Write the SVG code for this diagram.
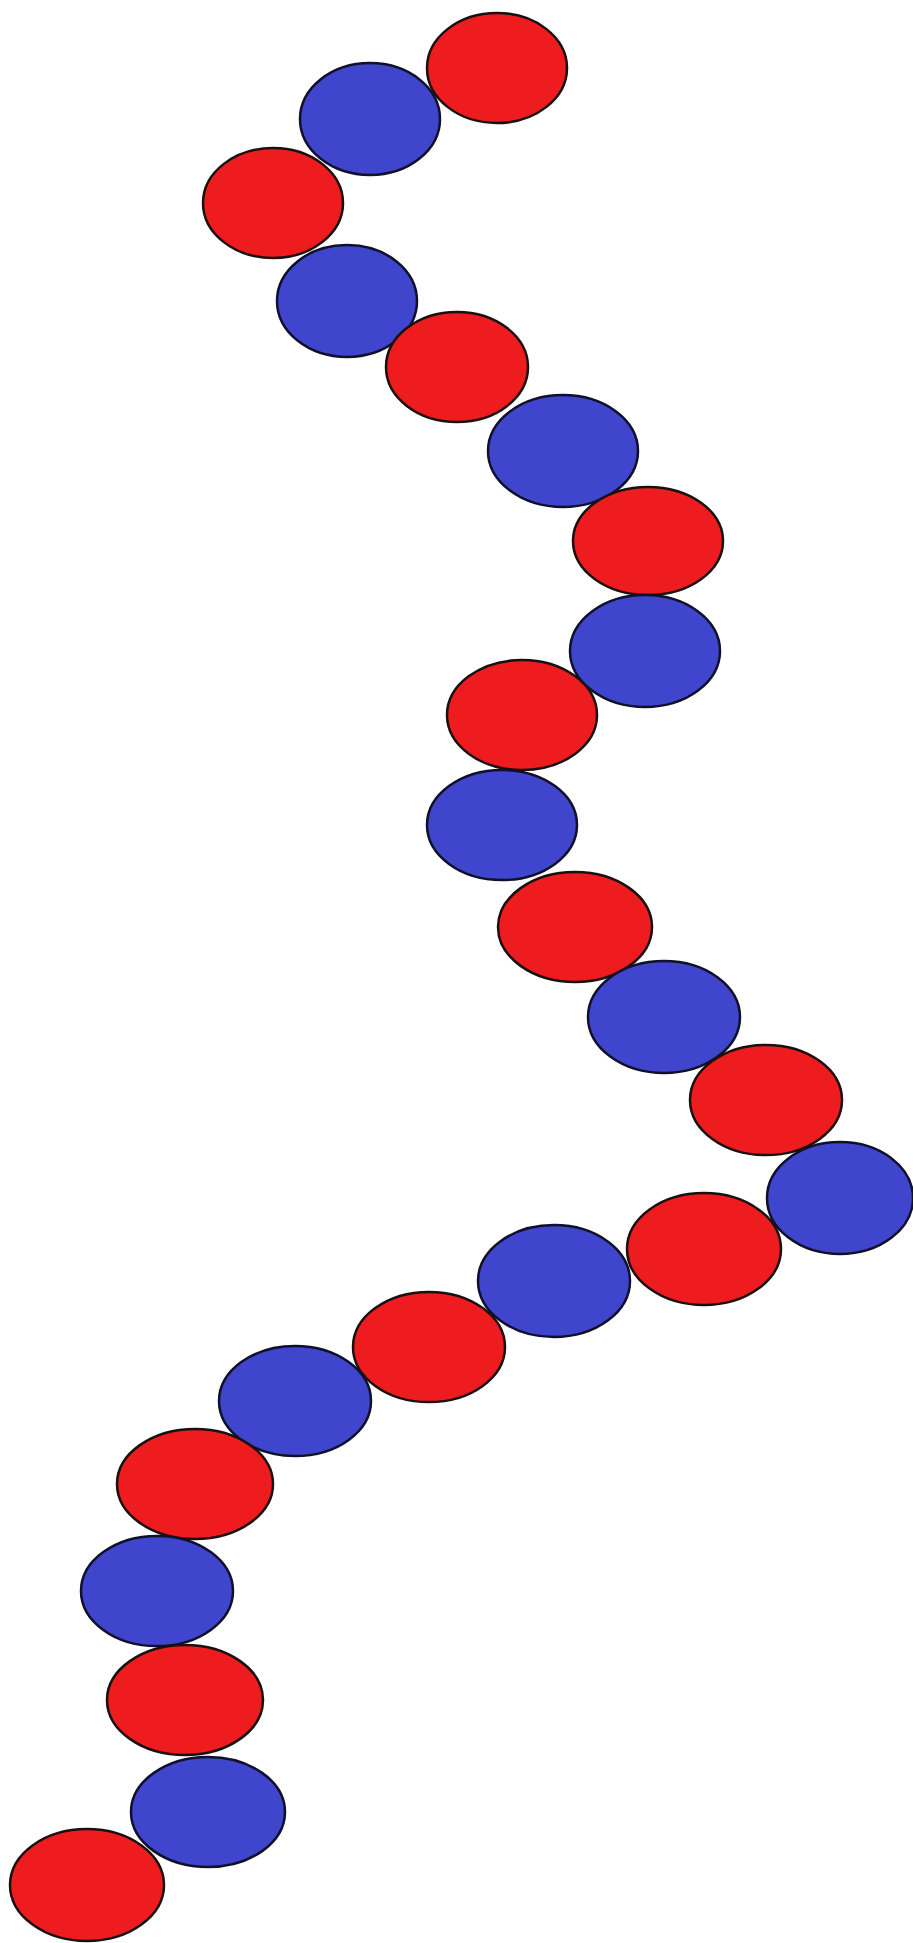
<svg xmlns="http://www.w3.org/2000/svg" width="913" height="1943" viewBox="0 0 913 1943">
<style>
.r{fill:#ee1c1f;stroke:#1a1010;stroke-width:2.5}
.b{fill:#3f45cc;stroke:#10102a;stroke-width:2.5}
</style>
<rect width="913" height="1943" fill="#ffffff"/>
<g id="n1"><ellipse class="r" cx="497" cy="68" rx="70" ry="55"/></g>
<g id="n2"><ellipse class="b" cx="370" cy="119" rx="70" ry="56"/></g>
<g id="n3"><ellipse class="r" cx="273" cy="203" rx="70" ry="55"/></g>
<g id="n4"><ellipse class="b" cx="347" cy="301" rx="70" ry="56"/></g>
<g id="n5"><ellipse class="r" cx="457" cy="367" rx="71" ry="55"/></g>
<g id="n6"><ellipse class="b" cx="563" cy="451" rx="75" ry="56"/></g>
<g id="n7"><ellipse class="r" cx="648" cy="541" rx="75" ry="54"/></g>
<g id="n8"><ellipse class="b" cx="645" cy="651" rx="75" ry="56"/></g>
<g id="n9"><ellipse class="r" cx="522" cy="715" rx="75" ry="55"/></g>
<g id="n10"><ellipse class="b" cx="502" cy="825" rx="75" ry="55"/></g>
<g id="n11"><ellipse class="r" cx="575" cy="927" rx="77" ry="55"/></g>
<g id="n12"><ellipse class="b" cx="664" cy="1017" rx="76" ry="56"/></g>
<g id="n13"><ellipse class="r" cx="766" cy="1100" rx="76" ry="55"/></g>
<g id="n14"><ellipse class="b" cx="840" cy="1198" rx="73" ry="56"/></g>
<g id="n15"><ellipse class="r" cx="704" cy="1249" rx="77" ry="56"/></g>
<g id="n16"><ellipse class="b" cx="554" cy="1281" rx="76" ry="56"/></g>
<g id="n17"><ellipse class="r" cx="429" cy="1347" rx="76" ry="55"/></g>
<g id="n18"><ellipse class="b" cx="295" cy="1401" rx="76" ry="55"/></g>
<g id="n19"><ellipse class="r" cx="195" cy="1484" rx="78" ry="55"/></g>
<g id="n20"><ellipse class="b" cx="157" cy="1591" rx="76" ry="55"/></g>
<g id="n21"><ellipse class="r" cx="185" cy="1700" rx="78" ry="55"/></g>
<g id="n22"><ellipse class="b" cx="208" cy="1812" rx="77" ry="55"/></g>
<g id="n23"><ellipse class="r" cx="87" cy="1885" rx="77" ry="56"/></g>
<g id="connectors"></g>
</svg>
